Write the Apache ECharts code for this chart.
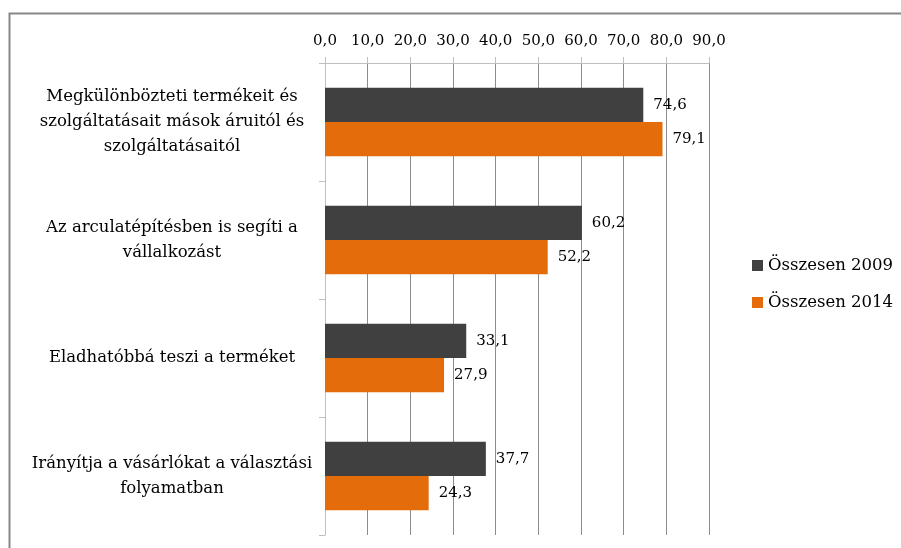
<!DOCTYPE html>
<html>
<head>
<meta charset="utf-8">
<script src="https://cdn.jsdelivr.net/npm/echarts@6/dist/echarts.min.js"></script>
<style>
  html, body { margin: 0; padding: 0; background: #fff; }
  #chart { width: 901px; height: 548px; }
</style>
</head>
<body>
<div id="chart"></div>
<script>
var categories = [
  'Megkülönbözteti termékeit és\nszolgáltatásait mások áruitól és\nszolgáltatásaitól',
  'Az arculatépítésben is segíti a\nvállalkozást',
  'Eladhatóbbá teszi a terméket',
  'Irányítja a vásárlókat a választási\nfolyamatban'
];
var values2009 = [74.6, 60.2, 33.1, 37.7];
var values2014 = [79.1, 52.2, 27.9, 24.3];
var seriesNames = ['Összesen 2009', 'Összesen 2014'];

var font = 'DejaVu Serif';
function hu(v) { return v.toFixed(1).replace('.', ','); }

var chart = echarts.init(document.getElementById('chart'));
chart.setOption({
  animation: false,
  textStyle: { fontFamily: font },
  graphic: [{
    type: 'rect',
    left: 7, top: 11,
    shape: { width: 1000, height: 1000 },
    style: { fill: 'none', stroke: '#878787', lineWidth: 2 }
  }],
  legend: {
    orient: 'vertical',
    left: 747, top: 252,
    itemWidth: 11, itemHeight: 11,
    itemGap: 20,
    icon: 'rect',
    data: seriesNames,
    textStyle: { fontFamily: font, fontSize: 16.5, color: '#000' }
  },
  grid: { left: 325, right: 192, top: 63, bottom: 13 },
  xAxis: {
    type: 'value',
    position: 'top',
    min: 0, max: 90, interval: 10,
    axisLine: { show: true, lineStyle: { color: '#bfbfbf' } },
    axisTick: { show: true, length: 6, lineStyle: { color: '#bfbfbf' } },
    splitLine: { show: true, lineStyle: { color: '#8c8c8c' } },
    axisLabel: { formatter: hu, fontFamily: font, fontSize: 15, color: '#000', margin: 14 }
  },
  yAxis: {
    type: 'category',
    inverse: true,
    data: categories,
    axisLine: { show: true, lineStyle: { color: '#bfbfbf' } },
    axisTick: { show: true, length: 6, lineStyle: { color: '#bfbfbf' } },
    axisLabel: {
      fontFamily: font, fontSize: 16.5, color: '#000',
      align: 'center', margin: 153, lineHeight: 25
    }
  },
  series: [{
    name: seriesNames[0],
    type: 'bar',
    data: values2009,
    barGap: '0%',
    barCategoryGap: '42%',
    itemStyle: { color: '#404040' },
    label: { show: true, position: 'right', distance: 10, formatter: function (p) { return hu(p.value); }, fontFamily: font, fontSize: 15, color: '#000' }
  }, {
    name: seriesNames[1],
    type: 'bar',
    data: values2014,
    itemStyle: { color: '#e46c0a' },
    label: { show: true, position: 'right', distance: 10, formatter: function (p) { return hu(p.value); }, fontFamily: font, fontSize: 15, color: '#000' }
  }]
});
</script>
</body>
</html>
